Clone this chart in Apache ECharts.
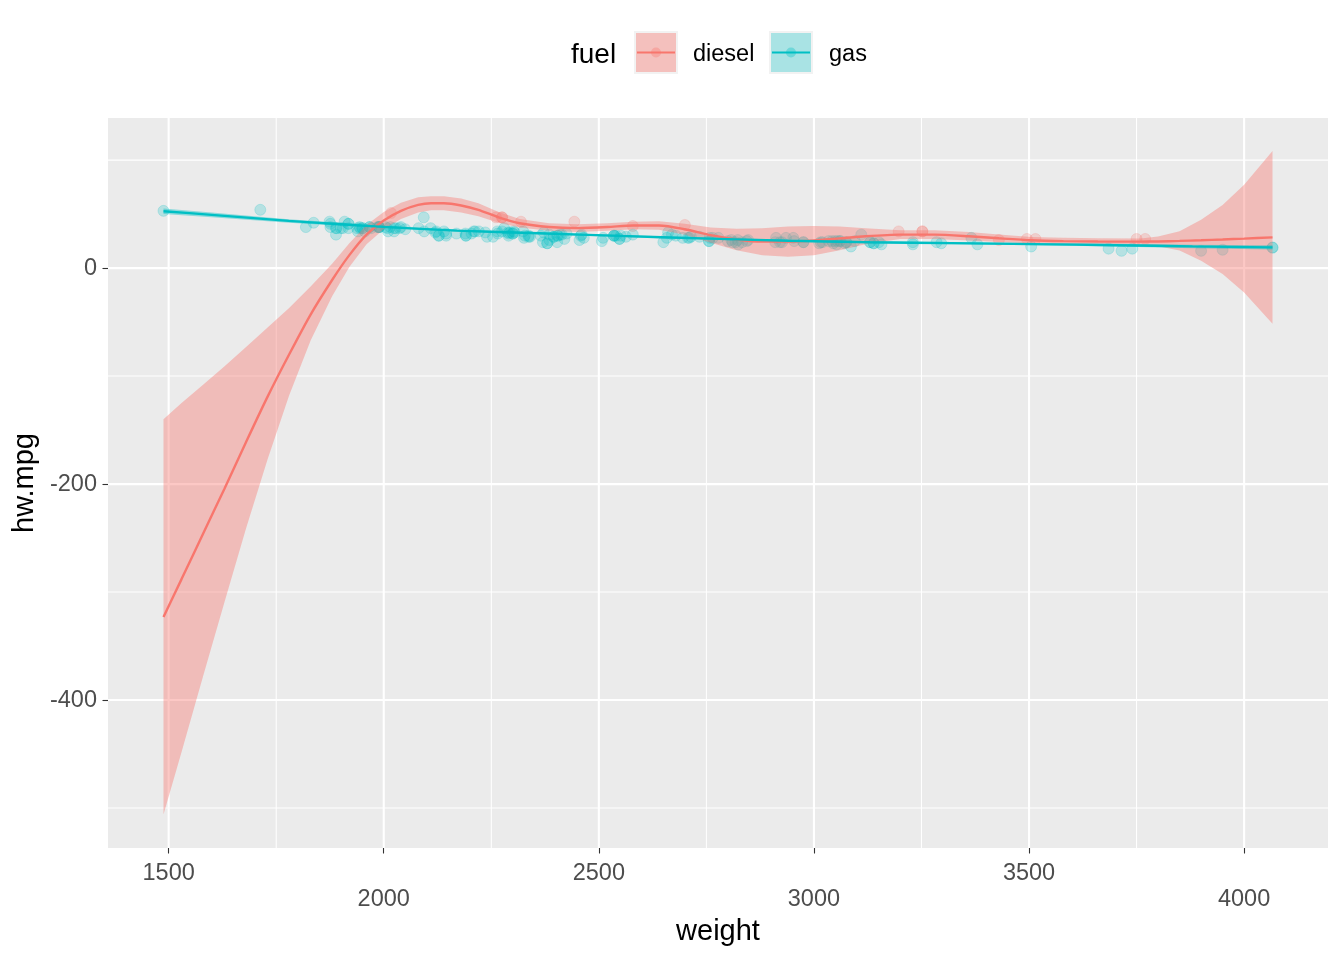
<!DOCTYPE html>
<html><head><meta charset="utf-8">
<script src="https://cdn.jsdelivr.net/npm/echarts@6/dist/echarts.min.js"></script>
<style>html,body{margin:0;padding:0;background:#fff}#c{width:1344px;height:960px}</style>
</head><body><div id="c"></div>
<script>
// ---- axis ticks ----
const xTicks = [1500, 2000, 2500, 3000, 3500, 4000];
const xMinor = [1750, 2250, 2750, 3250, 3750];
const yTicks = [-400, -200, 0];
const yMinor = [-500, -300, -100, 100];
const X_MIN = 1359, X_MAX = 4195, Y_MIN = -537, Y_MAX = 139;

// ---- points ----
const dieselWeight = [2017, 2261, 2275, 2275, 2319, 2443, 2579, 2700, 3197, 3252, 3252, 3430, 3495, 3515, 3750, 3770];
const dieselMpg    = [51, 47, 47, 47, 43, 43, 39, 40, 34, 34, 34, 26, 27, 27, 27, 27];

const gasWeight = [
1488,1713,1819,1837,1874,1876,1876,1889,1889,1890,
1900,1905,1909,1918,1918,1918,1938,1940,1944,1945,
1950,1951,1956,1967,1967,1971,1985,1989,1989,1989,
1989,2004,2008,2010,2015,2024,2024,2028,2037,2040,
2050,2081,2093,2094,2109,2120,2122,2128,2128,2140,
2145,2145,2169,2190,2191,2191,2204,2209,2212,2221,
2236,2240,2254,2264,2265,2275,2280,2289,2290,2290,
2293,2300,2300,2302,2304,2324,2326,2328,2337,2337,
2340,2365,2370,2372,2380,2380,2385,2385,2395,2395,
2403,2403,2405,2410,2414,2420,2425,2455,2458,2460,
2465,2507,2510,2535,2535,2536,2540,2548,2548,2551,
2563,2579,2650,2658,2661,2670,2679,2695,2707,2710,
2714,2734,2756,2756,2758,2765,2778,2800,2808,2811,
2818,2823,2824,2833,2844,2847,2910,2912,2921,2926,
2935,2952,2954,2975,2976,3012,3016,3020,3034,3042,
3045,3049,3053,3055,3060,3062,3071,3075,3075,3086,
3095,3110,3130,3131,3139,3139,3151,3157,3230,3230,
3285,3296,3366,3380,3505,3685,3715,3740,3900,3950,
4066,4066];
const gasMpg = [
53,54,38,42,43,41,38,37,31,37,
37,37,43,41,41,37,37,34,38,37,
37,37,34,38,38,37,38,38,38,38,
38,38,37,34,38,34,37,37,37,38,
36,37,47,34,37,33,34,30,30,34,
30,32,32,32,30,30,32,34,34,34,
33,29,29,34,32,34,37,33,32,30,
33,32,32,34,33,34,28,30,30,29,
29,30,24,33,23,23,31,26,29,29,
24,30,30,31,31,27,32,26,30,31,
28,25,28,30,30,30,30,27,27,30,
29,31,24,28,33,31,30,28,28,28,
29,29,25,25,28,28,28,25,26,24,
24,26,22,24,25,26,24,28,24,24,
28,28,25,24,24,23,24,24,25,25,
23,25,22,25,25,25,23,24,24,20,
25,31,24,24,23,23,24,22,24,22,
24,23,28,22,20,18,16,18,16,17,
19,19];

// ---- smooth fits ----
const dieselFitX = [1488,1530,1580,1630,1680,1730,1780,1830,1880,1920,1960,2000,2040,2080,2110,2140,2180,2220,2267,2316,2384,2450,2520,2580,2640,2700,2760,2820,2880,2940,3000,3060,3120,3200,3280,3360,3430,3505,3580,3660,3760,3800,3850,3900,3950,4000,4066];
const dieselFit  = [-323,-288,-246,-204,-161,-119,-80,-43,-11,12,31,44,53,58.5,60,60,58,54,47,41.5,38,37,38,39.5,39.5,36,30.5,26.5,24.5,24.5,25.5,27.5,29.5,31,31,29.5,27.6,25.8,25,24.6,24.5,24.7,25.2,25.8,26.5,27.3,28.5];
const dieselLo   = [-506,-448,-378,-309,-241,-177,-118,-67,-26,1,22,36,45.5,51.5,53.5,53.5,51.5,48,42,37.5,34.5,33.5,34.5,36,35.5,31,23.5,16.5,12,10.5,12,16.5,22,27,27,25.5,24.1,22.8,22,21.6,21.5,20.2,16.2,6.8,-5.5,-22.7,-51.5];
const dieselHi   = [-140,-125,-108,-91,-73,-55,-37,-17,4,23,40,52,60.5,65.5,66.5,66.5,64.5,60,52,45.5,41.5,40.5,41.5,43,43.5,41,37.5,36.5,37,38.5,39,38.5,37,35,35,33.5,31.1,28.8,28,27.6,27.5,29.2,34.2,44.8,58.5,77.3,108.5];

const gasFitX = [1488,1600,1779,1900,2000,2170,2360,2550,2740,2940,3130,3320,3510,3700,3880,4066];
const gasFit  = [52.7,49.3,43.7,40.6,38.2,34.7,32.3,29.8,27.5,25.3,24.0,23.1,22.2,21.2,20.1,19.2];
const gasLo   = [50.1,47.1,42.1,39.3,37.1,33.8,31.4,28.9,26.6,24.4,23.1,22.1,21.1,19.9,18.5,17.2];
const gasHi   = [55.3,51.5,45.3,41.9,39.3,35.6,33.2,30.7,28.4,26.2,24.9,24.1,23.3,22.5,21.7,21.2];

const RED = '#F8766D', TEAL = '#00BFC4';
const FONT = '"Liberation Sans", Arial, Helvetica, sans-serif';
const TICK_FS = 23.5, TITLE_FS = 29;

function zip(a, b) { return a.map((v, i) => [v, b[i]]); }

function ribbonSeries(xs, lo, hi, fill, z) {
  return {
    type: 'custom', z: z, silent: true, clip: true,
    data: xs.map((x, i) => [x, lo[i], hi[i]]),
    encode: { x: 0, y: [1, 2] },
    renderItem: function (params, api) {
      if (params.dataIndex !== 0) return null;
      const pts = [];
      for (let i = 0; i < xs.length; i++) pts.push(api.coord([xs[i], hi[i]]));
      for (let i = xs.length - 1; i >= 0; i--) pts.push(api.coord([xs[i], lo[i]]));
      return { type: 'polygon', shape: { points: pts }, style: { fill: fill } };
    }
  };
}

function gridSeries(data, vertical) {
  return {
    type: 'custom', z: 0, silent: true,
    data: data,
    renderItem: function (params, api) {
      const v = api.value(vertical ? 0 : 1);
      const major = api.value(2);
      const p1 = vertical ? api.coord([v, Y_MAX]) : api.coord([X_MIN, v]);
      const p2 = vertical ? api.coord([v, Y_MIN]) : api.coord([X_MAX, v]);
      return { type: 'line', shape: { x1: p1[0], y1: p1[1], x2: p2[0], y2: p2[1] },
               style: { stroke: '#FFFFFF', lineWidth: major ? 2.1 : 1.05 } };
    }
  };
}

const vGrid = xTicks.map(v => [v, 0, 1]).concat(xMinor.map(v => [v, 0, 0]));
const hGrid = yTicks.map(v => [X_MIN, v, 1]).concat(yMinor.map(v => [X_MIN, v, 0]));

const chart = echarts.init(document.getElementById('c'), null, { renderer: 'canvas' });
chart.setOption({
  animation: false,
  backgroundColor: '#FFFFFF',
  textStyle: { fontFamily: FONT },
  grid: { left: 108, top: 118, width: 1220, height: 730, show: true, backgroundColor: '#EBEBEB', borderWidth: 0 },
  xAxis: {
    type: 'value', min: X_MIN, max: X_MAX, position: 'bottom',
    axisLine: { show: false, onZero: false }, splitLine: { show: false },
    axisTick: { show: true, customValues: xTicks, length: 5.5, lineStyle: { color: '#333333', width: 1.1 } },
    axisLabel: {
      customValues: xTicks, color: '#4D4D4D', fontSize: TICK_FS, fontFamily: FONT, lineHeight: 26, margin: 13,
      formatter: function (v) { return (xTicks.indexOf(v) % 2 === 1 ? '\n' : '') + String(v); }
    },
    name: 'weight', nameLocation: 'middle', nameGap: 68,
    nameTextStyle: { fontSize: TITLE_FS, color: '#000000', fontFamily: FONT }
  },
  yAxis: {
    type: 'value', min: Y_MIN, max: Y_MAX, position: 'left',
    axisLine: { show: false, onZero: false }, splitLine: { show: false },
    axisTick: { show: true, customValues: yTicks, length: 5.5, lineStyle: { color: '#333333', width: 1.1 } },
    axisLabel: { customValues: yTicks, color: '#4D4D4D', fontSize: TICK_FS, fontFamily: FONT, margin: 11,
      formatter: function (v) { return String(v); } },
    name: 'hw.mpg', nameLocation: 'middle', nameGap: 60, nameRotate: 90,
    nameTextStyle: { fontSize: TITLE_FS, color: '#000000', fontFamily: FONT }
  },
  series: [
    gridSeries(vGrid, true),
    gridSeries(hGrid, false),
    { type: 'scatter', z: 2, symbol: 'circle', symbolSize: 11, silent: true,
      data: zip(dieselWeight, dieselMpg),
      itemStyle: { color: 'rgba(248,118,109,0.3)', borderColor: 'rgba(248,118,109,0.25)', borderWidth: 1 } },
    { type: 'scatter', z: 2, symbol: 'circle', symbolSize: 11, silent: true,
      data: zip(gasWeight, gasMpg),
      itemStyle: { color: 'rgba(0,191,196,0.28)', borderColor: 'rgba(0,191,196,0.25)', borderWidth: 1 } },
    ribbonSeries(dieselFitX, dieselLo, dieselHi, 'rgba(248,118,109,0.4)', 3),
    ribbonSeries(gasFitX, gasLo, gasHi, 'rgba(0,191,196,0.4)', 3),
    { type: 'line', z: 4, showSymbol: false, smooth: 0.25, silent: true,
      data: zip(dieselFitX, dieselFit), lineStyle: { color: RED, width: 2.4 } },
    { type: 'line', z: 4, showSymbol: false, smooth: 0.25, silent: true,
      data: zip(gasFitX, gasFit), lineStyle: { color: TEAL, width: 2.4 } }
  ],
  graphic: [
    { type: 'text', left: 571, top: 41, style: { text: 'fuel', fontSize: 28, fill: '#000', fontFamily: FONT } },
    { type: 'rect', shape: { x: 634, y: 31, width: 44, height: 43 }, style: { fill: '#F2F2F2' } },
    { type: 'rect', shape: { x: 636, y: 33, width: 40, height: 39 }, style: { fill: 'rgba(248,118,109,0.4)' } },
    { type: 'line', shape: { x1: 637, y1: 52.5, x2: 675, y2: 52.5 }, style: { stroke: RED, lineWidth: 2.1 } },
    { type: 'circle', shape: { cx: 656, cy: 52.5, r: 5 }, style: { fill: 'rgba(248,118,109,0.35)' } },
    { type: 'text', left: 693, top: 43, style: { text: 'diesel', fontSize: TICK_FS, fill: '#000', fontFamily: FONT } },
    { type: 'rect', shape: { x: 769, y: 31, width: 44, height: 43 }, style: { fill: '#F2F2F2' } },
    { type: 'rect', shape: { x: 771, y: 33, width: 40, height: 39 }, style: { fill: 'rgba(0,191,196,0.3)' } },
    { type: 'line', shape: { x1: 772, y1: 52.5, x2: 810, y2: 52.5 }, style: { stroke: TEAL, lineWidth: 2.1 } },
    { type: 'circle', shape: { cx: 791, cy: 52.5, r: 5 }, style: { fill: 'rgba(0,191,196,0.35)' } },
    { type: 'text', left: 829, top: 43, style: { text: 'gas', fontSize: TICK_FS, fill: '#000', fontFamily: FONT } }
  ]
});
</script>
</body></html>
